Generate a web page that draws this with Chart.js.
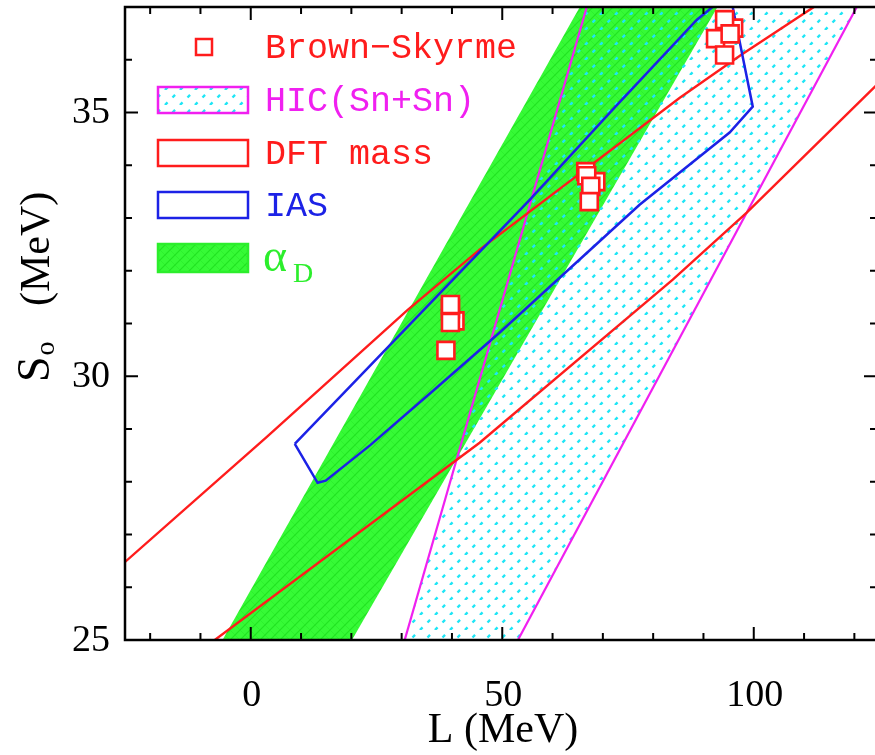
<!DOCTYPE html>
<html><head><meta charset="utf-8">
<script src="https://cdn.jsdelivr.net/npm/chart.js@4.4.1/dist/chart.umd.min.js"></script>
<style>html,body{margin:0;padding:0;overflow:hidden;background:#fff;width:875px;height:755px}canvas{display:block}</style>
</head><body>
<canvas id="c" width="880" height="755"></canvas>
<script>
// ---------------- data (L in MeV, S0 in MeV) ----------------
const brownL = [40.6, 39.7, 39.7, 39.7, 38.8, 68.6, 66.6, 66.8, 67.6, 67.3, 96.0, 94.2, 92.4, 95.3, 94.2];
const brownS = [31.05, 31.28, 31.36, 31.02, 30.49, 33.69, 33.88, 33.80, 33.60, 33.31, 36.60, 36.76, 36.40, 36.49, 36.09];

const iasL = [8.75, 13.3, 14.9, 23.7, 36.2, 49.5, 58.8, 77.3, 95.2, 99.8, 95.6, 93.1, 88.7, 72.0, 55.5, 40.2, 8.75];
const iasS = [28.72, 27.98, 28.02, 28.69, 29.72, 30.83, 31.64, 33.25, 34.62, 35.11, 37.1, 37.1, 36.76, 35.06, 33.35, 31.83, 28.72];

const dftUpperL = [-27, 3.2, 31.2, 45.5, 85.3, 97.6, 112.1, 114];
const dftUpperS = [26.31, 28.85, 31.26, 32.40, 35.28, 36.10, 37.01, 37.13];
const dftLowerL = [-9, 45.5, 83.9, 98.6, 124.1, 126];
const dftLowerS = [24.87, 28.74, 31.83, 33.10, 35.49, 35.67];

const hicLeftL = [30.0, 67.4];
const hicLeftS = [24.8, 37.2];
const hicRightL = [52.0, 121.6];
const hicRightS = [24.8, 37.2];
const hicAreaL = [30.0, 52.0, 121.6, 67.4, 30.0];
const hicAreaS = [24.8, 24.8, 37.2, 37.2, 24.8];

const alphaDL = [-6.8, 18.9, 94.0, 66.6, -6.8];
const alphaDS = [24.8, 24.8, 37.2, 37.2, 24.8];

const xMinorTicks = [-20, -10, 0, 10, 20, 30, 40, 50, 60, 70, 80, 90, 100, 110, 120];
const xMajorTicks = [0, 50, 100];
const xTickLabels = ['0', '50', '100'];
const yMinorTicks = [25, 26, 27, 28, 29, 30, 31, 32, 33, 34, 35, 36, 37];
const yMajorTicks = [25, 30, 35];
const yTickLabels = ['25', '30', '35'];

const legendLabels = ['Brown\u2212Skyrme', 'HIC(Sn+Sn)', 'DFT mass', 'IAS', '\u03b1'];
const xTitle = 'L (MeV)';

// ---------------- styles ----------------
const RED = '#ff1c1c', BLUE = '#1c22e6', MAGENTA = '#f020f0', GREEN = '#2cee2c';

function greenPattern() {
  const c = document.createElement('canvas'); c.width = 10; c.height = 10;
  const g = c.getContext('2d');
  g.fillStyle = '#36fa36'; g.fillRect(0, 0, 10, 10);
  g.lineWidth = 1.2;
  g.strokeStyle = '#22e422';
  g.beginPath();
  [[0, 10, 10, 0], [-10, 10, 0, 0], [10, 10, 20, 0]].forEach(s => { g.moveTo(s[0], s[1]); g.lineTo(s[2], s[3]); });
  g.stroke();
  g.strokeStyle = 'rgba(34,224,34,0.4)';
  g.lineWidth = 1;
  g.beginPath();
  [[0, 0, 10, 10], [-10, 0, 0, 10], [10, 0, 20, 10]].forEach(s => { g.moveTo(s[0], s[1]); g.lineTo(s[2], s[3]); });
  g.stroke();
  return g.createPattern(c, 'repeat');
}
function cyanPattern() {
  const n = 15;
  const c = document.createElement('canvas'); c.width = n; c.height = n;
  const g = c.getContext('2d');
  g.strokeStyle = '#1ee6f6'; g.lineWidth = 2.4;
  const per = Math.SQRT2 * n / 2;
  g.setLineDash([3.6, per - 3.6]);
  [-n, 0, n].forEach(o => { g.beginPath(); g.moveTo(o, n); g.lineTo(o + n, 0); g.stroke(); });
  return g.createPattern(c, 'repeat');
}
const GREEN_FILL = greenPattern();
const CYAN_FILL = cyanPattern();

const pts = (L, S) => L.map((v, i) => ({x: v, y: S[i]}));
const lineDs = (label, L, S, color, width, order) => ({
  label, data: pts(L, S), showLine: true, borderColor: color, borderWidth: width,
  pointRadius: 0, fill: false, order, clip: 0, tension: 0
});
const areaDs = (label, L, S, fillStyle, order) => ({
  label, data: pts(L, S), showLine: true, borderColor: 'rgba(0,0,0,0)', borderWidth: 0,
  backgroundColor: fillStyle, fill: 'shape', pointRadius: 0, order, clip: 0, tension: 0
});

// ---------------- decorations (axes, ticks, labels, legend) ----------------
const decor = {
  id: 'decor',
  afterDraw(chart) {
    const {ctx, chartArea: a, scales: {x, y}} = chart;
    ctx.save();
    ctx.strokeStyle = '#000';
    ctx.lineCap = 'butt';
    // tick marks pointing inward
    ctx.lineWidth = 2;
    ctx.beginPath();
    xMinorTicks.forEach(v => {
      const p = x.getPixelForValue(v);
      const len = xMajorTicks.includes(v) ? 13 : 7;
      ctx.moveTo(p, a.bottom); ctx.lineTo(p, a.bottom - len);
      ctx.moveTo(p, a.top); ctx.lineTo(p, a.top + len);
    });
    yMinorTicks.forEach(v => {
      const p = y.getPixelForValue(v);
      const len = yMajorTicks.includes(v) ? 13 : 7;
      ctx.moveTo(a.left, p); ctx.lineTo(a.left + len, p);
      ctx.moveTo(a.right, p); ctx.lineTo(a.right - len, p);
    });
    ctx.stroke();
    // frame
    ctx.lineWidth = 2.5;
    ctx.strokeRect(a.left, a.top, a.right - a.left, a.bottom - a.top);

    // tick labels
    ctx.fillStyle = '#000';
    ctx.font = '38px "Liberation Serif"';
    ctx.textAlign = 'center'; ctx.textBaseline = 'alphabetic';
    xMajorTicks.forEach((v, i) => ctx.fillText(xTickLabels[i], x.getPixelForValue(v) + 1, 706));
    ctx.textAlign = 'right'; ctx.textBaseline = 'middle';
    yMajorTicks.forEach((v, i) => ctx.fillText(yTickLabels[i], 110, y.getPixelForValue(v) + 1));

    // axis titles
    ctx.font = '42px "Liberation Serif"';
    ctx.textAlign = 'center'; ctx.textBaseline = 'alphabetic';
    ctx.fillText(xTitle, 503, 742);
    ctx.save();
    ctx.translate(49, 0); ctx.rotate(-Math.PI / 2);
    ctx.textAlign = 'left';
    ctx.font = '46px "Liberation Serif"';
    ctx.fillText('S', -382, 0);
    const sw = ctx.measureText('S').width;
    ctx.font = '28px "Liberation Serif"';
    ctx.fillText('o', -382 + sw + 1, 5);
    ctx.font = '42px "Liberation Serif"';
    ctx.fillText('(MeV)', -306, 0);
    ctx.restore();

    // legend
    const tx = 265, bx = 158, bw = 90, bh = 26;
    const rows = [47, 100, 153, 205, 258];
    ctx.textAlign = 'left'; ctx.textBaseline = 'middle';
    ctx.font = '35px "Liberation Mono"';
    // Brown-Skyrme marker
    ctx.lineWidth = 2.5; ctx.strokeStyle = RED; ctx.fillStyle = '#fff';
    ctx.fillRect(196, rows[0] - 8, 16, 16); ctx.strokeRect(196, rows[0] - 8, 16, 16);
    ctx.fillStyle = RED; ctx.fillText(legendLabels[0], tx, rows[0] + 2);
    // HIC
    ctx.fillStyle = CYAN_FILL; ctx.fillRect(bx, rows[1] - bh / 2, bw, bh);
    ctx.strokeStyle = MAGENTA; ctx.strokeRect(bx, rows[1] - bh / 2, bw, bh);
    ctx.fillStyle = MAGENTA; ctx.fillText(legendLabels[1], tx, rows[1] + 2);
    // DFT
    ctx.strokeStyle = RED; ctx.strokeRect(bx, rows[2] - bh / 2, bw, bh);
    ctx.fillStyle = RED; ctx.fillText(legendLabels[2], tx, rows[2] + 2);
    // IAS
    ctx.strokeStyle = BLUE; ctx.strokeRect(bx, rows[3] - bh / 2, bw, bh);
    ctx.fillStyle = BLUE; ctx.fillText(legendLabels[3], tx, rows[3] + 2);
    // alpha_D
    ctx.fillStyle = GREEN_FILL; ctx.fillRect(bx, rows[4] - 14, bw, 28);
    ctx.strokeStyle = GREEN; ctx.strokeRect(bx, rows[4] - 14, bw, 28);
    ctx.fillStyle = GREEN;
    ctx.textBaseline = 'alphabetic';
    ctx.font = '46px "Liberation Serif"';
    ctx.fillText(legendLabels[4], 263, 271);
    ctx.font = '28px "Liberation Serif"';
    ctx.fillText('D', 293, 282);
    ctx.restore();
  }
};

new Chart(document.getElementById('c'), {
  type: 'scatter',
  data: {
    datasets: [
      {label: 'Brown\u2212Skyrme', data: pts(brownL, brownS), showLine: false, pointStyle: 'rect',
       pointRadius: 12, pointBorderWidth: 2.6, borderColor: RED, backgroundColor: '#fff', order: 0},
      lineDs('IAS', iasL, iasS, BLUE, 2.5, 1),
      lineDs('DFT mass upper', dftUpperL, dftUpperS, RED, 2.4, 2),
      lineDs('DFT mass lower', dftLowerL, dftLowerS, RED, 2.4, 2),
      lineDs('HIC left', hicLeftL, hicLeftS, MAGENTA, 2.2, 3),
      lineDs('HIC right', hicRightL, hicRightS, MAGENTA, 2.2, 3),
      areaDs('HIC(Sn+Sn)', hicAreaL, hicAreaS, CYAN_FILL, 4),
      areaDs('alpha_D', alphaDL, alphaDS, GREEN_FILL, 5)
    ]
  },
  options: {
    responsive: false, animation: false, devicePixelRatio: 1, events: [],
    layout: {autoPadding: false, padding: {left: 125, top: 7, right: 3, bottom: 115}},
    scales: {
      x: {type: 'linear', min: -25, max: 124.5, display: false},
      y: {type: 'linear', min: 25, max: 37, display: false}
    },
    plugins: {legend: {display: false}, tooltip: {enabled: false}}
  },
  plugins: [decor]
});
</script>
</body></html>
